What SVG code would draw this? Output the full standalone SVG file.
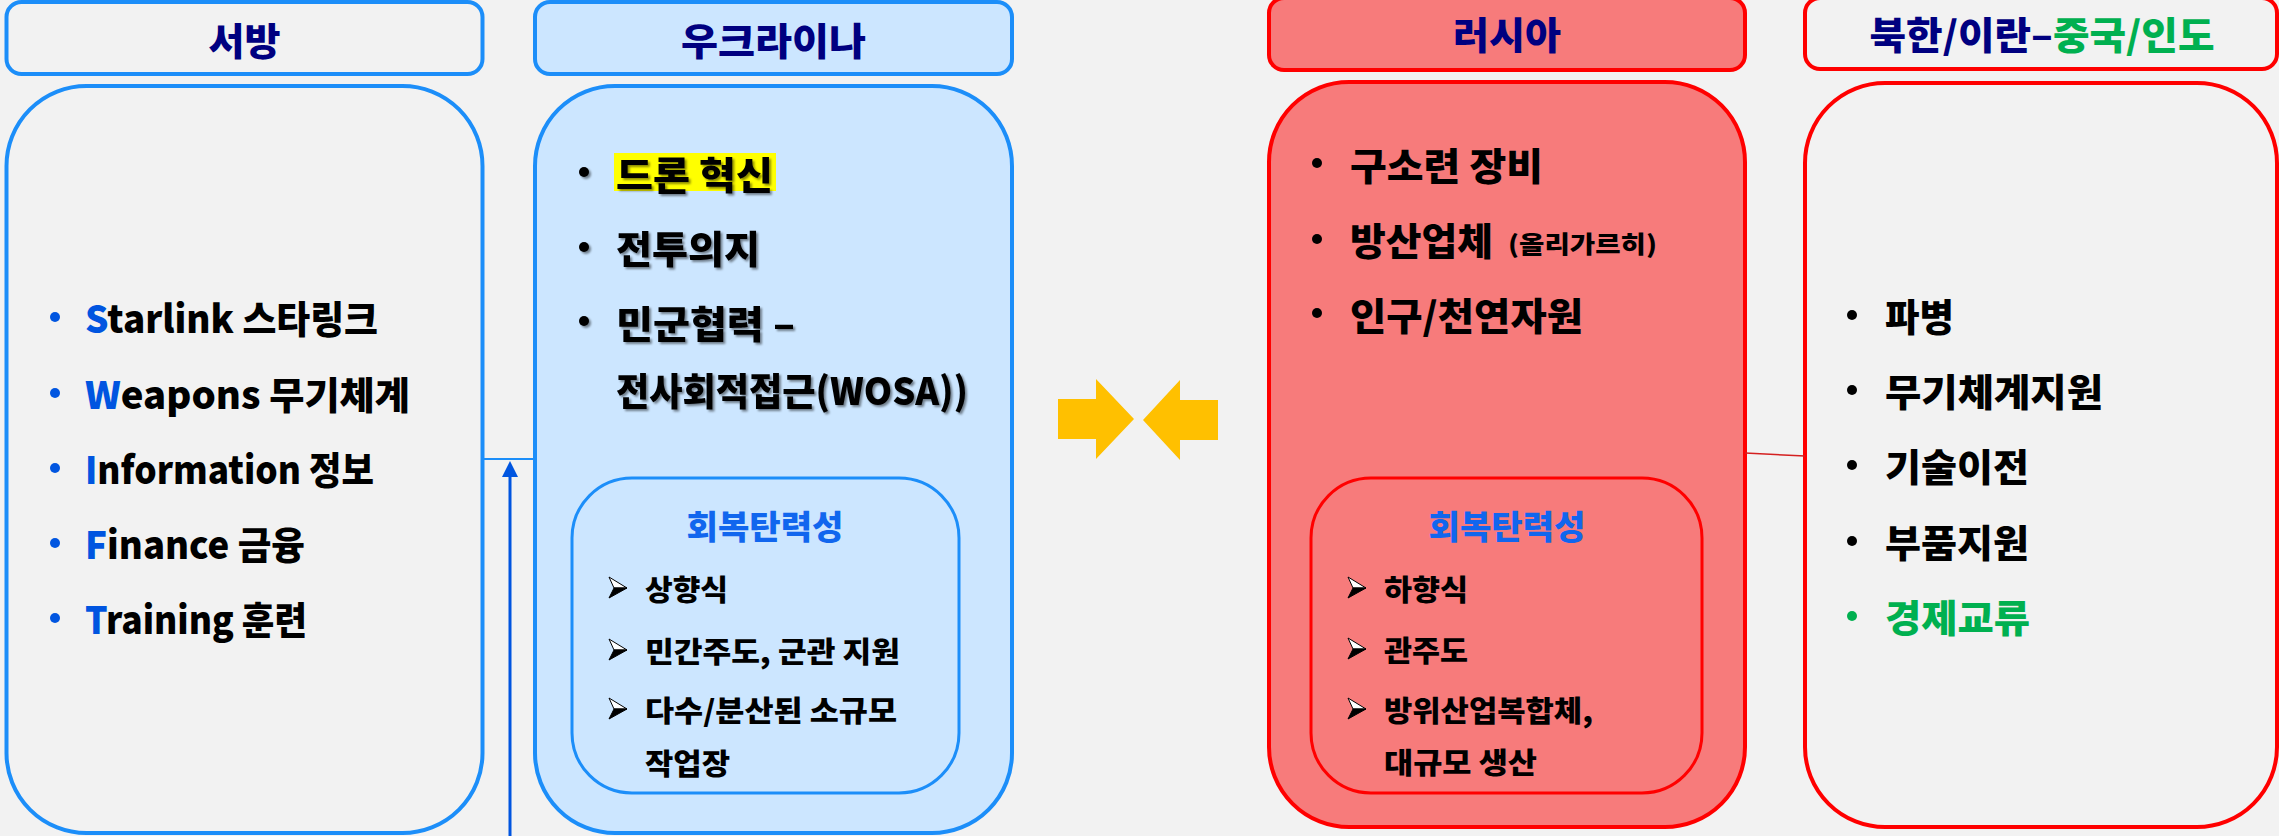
<svg xmlns="http://www.w3.org/2000/svg" xmlns:xlink="http://www.w3.org/1999/xlink" width="2279" height="836" viewBox="0 0 2279 836">
<style>
text{font-family:"Noto Sans CJK KR","Noto Sans",sans-serif;font-weight:900;}
.hd{font-size:38px;fill:#000080;}
.it{font-size:38px;fill:#000;}
.sm{font-size:29px;fill:#000;}
.rt{font-size:33px;fill:#1166EE;}
.bl{fill:#0055E0;}
.gr{fill:#00B050;}
.boxB{fill:#F2F2F2;stroke:#1C8EF9;stroke-width:4;}
.boxU{fill:#CCE6FF;stroke:#1C8EF9;stroke-width:4;}
.boxR{fill:#F77B7B;stroke:#FF0000;stroke-width:4;}
.boxN{fill:#F2F2F2;stroke:#FF0000;stroke-width:4;}
.inU{fill:none;stroke:#1C8EF9;stroke-width:3;}
.inR{fill:none;stroke:#FF0000;stroke-width:3;}
.clash{fill:#FFC000;}
</style>
<defs>
<filter id="shadow" x="-10%" y="-30%" width="120%" height="160%">
<feDropShadow dx="2" dy="2" stdDeviation="1" flood-color="#000" flood-opacity="0.45"/>
</filter>
<symbol id="arrowBullet" viewBox="0 0 18 21" overflow="visible">
<polygon points="0,0 18,11 5,11" fill="#fff" stroke="#000" stroke-width="1"/>
<polygon points="5,11 18,11 0,21" fill="#000" stroke="#000" stroke-width="1"/>
</symbol>
<marker id="upHead" markerWidth="16" markerHeight="16" viewBox="0 0 16 16" refX="7" refY="8" orient="auto" markerUnits="userSpaceOnUse">
<polygon points="16,8 0,0 0,16" fill="#0055E0"/>
</marker>
</defs>
<rect x="0" y="0" width="2279" height="836" fill="#F2F2F2"/>

<g id="node-west-header">
<rect class="boxB" x="6.5" y="2" width="476" height="72" rx="15"/>
<text class="hd" x="244.5" y="55" text-anchor="middle" textLength="72" lengthAdjust="spacingAndGlyphs">서방</text>
</g>
<g id="node-ukraine-header">
<rect class="boxU" x="535" y="2" width="477" height="72" rx="15"/>
<text class="hd" x="773.5" y="55" text-anchor="middle" textLength="185" lengthAdjust="spacingAndGlyphs">우크라이나</text>
</g>
<g id="node-russia-header">
<rect class="boxR" x="1269" y="-2" width="476" height="72" rx="15"/>
<text class="hd" x="1507" y="49" text-anchor="middle" textLength="108" lengthAdjust="spacingAndGlyphs">러시아</text>
</g>
<g id="node-nk-header">
<rect class="boxN" x="1805" y="-2" width="472" height="71" rx="15"/>
<text class="hd" x="2042" y="49" text-anchor="middle" textLength="345" lengthAdjust="spacingAndGlyphs">북한/이란–<tspan class="gr">중국/인도</tspan></text>
</g>

<g id="node-west">
<rect class="boxB" x="6.5" y="86" width="476" height="747" rx="80"/>
<g class="bl">
<circle cx="55" cy="317" r="5"/><circle cx="55" cy="393" r="5"/><circle cx="55" cy="468" r="5"/><circle cx="55" cy="543" r="5"/><circle cx="55" cy="618" r="5"/>
</g>
<text class="it" x="85" y="333" textLength="293" lengthAdjust="spacingAndGlyphs"><tspan class="bl">S</tspan>tarlink 스타링크</text>
<text class="it" x="85" y="409" textLength="325" lengthAdjust="spacingAndGlyphs"><tspan class="bl">W</tspan>eapons 무기체계</text>
<text class="it" x="85" y="484" textLength="289" lengthAdjust="spacingAndGlyphs"><tspan class="bl">I</tspan>nformation 정보</text>
<text class="it" x="85" y="559" textLength="220" lengthAdjust="spacingAndGlyphs"><tspan class="bl">F</tspan>inance 금융</text>
<text class="it" x="85" y="634" textLength="222" lengthAdjust="spacingAndGlyphs"><tspan class="bl">T</tspan>raining 훈련</text>
</g>

<g id="node-ukraine">
<rect class="boxU" x="535" y="86" width="477" height="747" rx="80"/>
<rect x="614" y="153" width="162" height="38" fill="#FFFF00"/>
<g filter="url(#shadow)">
<circle cx="584" cy="172" r="5"/><circle cx="584" cy="247" r="5"/><circle cx="584" cy="321" r="5"/>
<text class="it" x="616" y="189" textLength="157" lengthAdjust="spacingAndGlyphs">드론 혁신</text>
<text class="it" x="616" y="263" textLength="144" lengthAdjust="spacingAndGlyphs">전투의지</text>
<text class="it" x="616" y="338" textLength="179" lengthAdjust="spacingAndGlyphs">민군협력 –</text>
<text class="it" x="616" y="405" textLength="352" lengthAdjust="spacingAndGlyphs">전사회적접근(WOSA))</text>
</g>
</g>

<g id="node-ukraine-resilience">
<rect class="inU" x="572" y="478" width="387" height="315" rx="60"/>
<text class="rt" x="765" y="539" text-anchor="middle" textLength="157" lengthAdjust="spacingAndGlyphs">회복탄력성</text>
<use href="#arrowBullet" x="609" y="577" width="18" height="21"/>
<use href="#arrowBullet" x="609" y="639" width="18" height="21"/>
<use href="#arrowBullet" x="609" y="698" width="18" height="21"/>
<text class="sm" x="645" y="601" textLength="83" lengthAdjust="spacingAndGlyphs">상향식</text>
<text class="sm" x="645" y="663" textLength="255" lengthAdjust="spacingAndGlyphs">민간주도, 군관 지원</text>
<text class="sm" x="645" y="722" textLength="252" lengthAdjust="spacingAndGlyphs">다수/분산된 소규모</text>
<text class="sm" x="645" y="775" textLength="85" lengthAdjust="spacingAndGlyphs">작업장</text>
</g>

<g id="node-clash">
<polygon class="clash" points="1058,399 1096,399 1096,379 1134,419 1096,459 1096,439 1058,439"/>
<polygon class="clash" points="1218,400 1180,400 1180,380 1143,420 1180,460 1180,440 1218,440"/>
</g>

<g id="node-russia">
<rect class="boxR" x="1269" y="82" width="476" height="745" rx="80"/>
<circle cx="1317" cy="163" r="5"/><circle cx="1317" cy="239" r="5"/><circle cx="1317" cy="313" r="5"/>
<text class="it" x="1350" y="180" textLength="193" lengthAdjust="spacingAndGlyphs">구소련 장비</text>
<text class="it" x="1350" y="255" textLength="143" lengthAdjust="spacingAndGlyphs">방산업체</text>
<text class="it" x="1508" y="253" style="font-size:24px" textLength="149" lengthAdjust="spacingAndGlyphs">(올리가르히)</text>
<text class="it" x="1350" y="330" textLength="233" lengthAdjust="spacingAndGlyphs">인구/천연자원</text>
</g>

<g id="node-russia-resilience">
<rect class="inR" x="1311" y="478" width="391" height="315" rx="60"/>
<text class="rt" x="1507" y="539" text-anchor="middle" textLength="157" lengthAdjust="spacingAndGlyphs">회복탄력성</text>
<use href="#arrowBullet" x="1348" y="577" width="18" height="21"/>
<use href="#arrowBullet" x="1348" y="638" width="18" height="21"/>
<use href="#arrowBullet" x="1348" y="698" width="18" height="21"/>
<text class="sm" x="1384" y="601" textLength="84" lengthAdjust="spacingAndGlyphs">하향식</text>
<text class="sm" x="1384" y="662" textLength="84" lengthAdjust="spacingAndGlyphs">관주도</text>
<text class="sm" x="1384" y="722" textLength="209" lengthAdjust="spacingAndGlyphs">방위산업복합체,</text>
<text class="sm" x="1384" y="774" textLength="153" lengthAdjust="spacingAndGlyphs">대규모 생산</text>
</g>

<g id="node-nk">
<rect class="boxN" x="1805" y="83" width="472" height="744" rx="80"/>
<circle cx="1852" cy="315" r="5"/><circle cx="1852" cy="390" r="5"/><circle cx="1852" cy="465" r="5"/><circle cx="1852" cy="541" r="5"/>
<circle class="gr" cx="1852" cy="616" r="5"/>
<text class="it" x="1885" y="331" textLength="69" lengthAdjust="spacingAndGlyphs">파병</text>
<text class="it" x="1885" y="406" textLength="218" lengthAdjust="spacingAndGlyphs">무기체계지원</text>
<text class="it" x="1885" y="481" textLength="144" lengthAdjust="spacingAndGlyphs">기술이전</text>
<text class="it" x="1885" y="557" textLength="144" lengthAdjust="spacingAndGlyphs">부품지원</text>
<text class="it gr" x="1885" y="632" textLength="145" lengthAdjust="spacingAndGlyphs">경제교류</text>
</g>

<g id="connectors">
<line x1="483" y1="459" x2="535" y2="459" stroke="#1C8EF9" stroke-width="2"/>
<line x1="510" y1="836" x2="510" y2="470" stroke="#0055E0" stroke-width="3" marker-end="url(#upHead)"/>
<line x1="1745" y1="453" x2="1805" y2="456" stroke="#D42020" stroke-width="1.5"/>
</g>
</svg>
